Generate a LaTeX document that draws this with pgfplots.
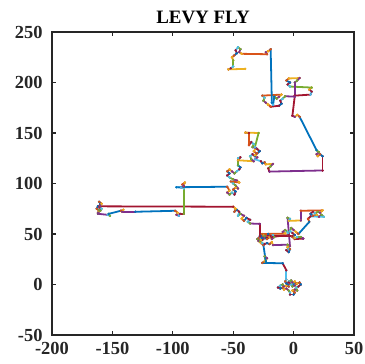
\documentclass[border=0pt]{standalone}
\usepackage{pgfplots}
\usepackage{pgfplotstable}
\pgfplotsset{compat=1.18}
\usepackage{fontspec}
\setmainfont{Liberation Serif}
\definecolor{axgray}{rgb}{0.15,0.15,0.15}
\definecolor{mc0}{rgb}{0,0.447,0.741}
\definecolor{mc1}{rgb}{0.85,0.325,0.098}
\definecolor{mc2}{rgb}{0.929,0.694,0.125}
\definecolor{mc3}{rgb}{0.494,0.184,0.556}
\definecolor{mc4}{rgb}{0.466,0.674,0.188}
\definecolor{mc5}{rgb}{0.301,0.745,0.933}
\definecolor{mc6}{rgb}{0.635,0.078,0.184}
\pgfplotstableread{
x y c
0 0 0
2 1 1
1 3 2
-1 2 3
-2 4 4
-4 3 5
-3 1 6
-5 0 0
-4 -2 1
-6 -1 2
-8 -2 3
-9 0 4
-11 -1 5
-13 -3 6
-11 -4 0
-9 -3 1
-8 -5 2
-6 -4 3
-4 -6 4
-3 -8 5
-3 -10 6
0 -10 0
1 -8 1
-1 -6 2
1 -5 3
3 -6 4
2 -3 5
4 -2 6
6 0 0
5 2 1
3 1 2
1 -1 3
-1 -2 4
-2 0 5
-4 2 6
-6 1 0
-7 3 1
-6 5 5
-6 14 6
-9 21 0
-26 21.4 1
-24 23 2
-22 26 3
-24 28 4
-23 23 0
-25 39 1
-27 41 2
-29 43 3
-30 45 4
-28 46 5
-26 44 6
-24 46 0
-22 45 1
-20 47 2
-18 45 3
-16 47 4
-17 49 5
-19 48 6
-21 50 0
-23 48 1
-25 49 2
-27 47 3
-28 43 4
-26 41 5
-24 40 6
-22 41 0
-20 40 1
-18 42 2
-17 39 3
-5 39.4 4
-4 36 5
-6 34 6
-4 32 0
-3 35 1
-5 37 2
-3 38 3
-5 66 4
-3 65 5
-4 63 2
6 63.4 3
6 73 1
24 73.4 2
22 71 3
20 72 4
18 70 5
16 72 6
14 70 0
16 68 1
19 69 2
21 67 3
23 69 4
25 67 5
14 67.4 6
12 65 1
13 62 0
4 50 1
2 52 2
0 54 3
-2 56 4
-3 53 5
-1 51 6
1 49 0
-1 47 1
1 45 6
8 45.4 3
6 47 4
3 47 5
1 46 2
-1 48 6
-27 48.4 0
-29 46 1
-27 44 2
-25 46 3
-24 48 4
-26 50 1
-7 50.4 2
-9 52 3
-7 54 4
-5 52 5
-4 49 6
-26 46 0
-28 48 6
-28 60 3
-36 60.4 4
-38 62 5
-36 64 6
-39 66 0
-41 63 1
-43 65 2
-41 68 3
-44 70 4
-46 68 5
-45 72 6
-47 74 0
-49 72 1
-48 75 2
-50 77 6
-162 77.4 0
-163 75 1
-161 73 2
-162 71 3
-160 73 4
-159 75 5
-161 77 6
-160 80 0
-161 82 1
-159 80 2
-160 78 3
-161 74 4
-162 70 3
-154 69 5
-152 68 4
-153 70 0
-143 73 1
-141 74 2
-142 72 3
-131 72 0
-98 73 1
-96 71 2
-97 69 3
-95 68 5
-94 70 6
-91 70 4
-91 95 5
-91 97 6
-92 99 1
-90 101 2
-91 98 3
-93 96 5
-97 96.3 0
-55 96.8 1
-53 93 2
-55 91 3
-53 89 4
-51 91 5
-49 89 6
-48 92 0
-50 94 1
-48 96 2
-46 95 3
-48 98 4
-50 100 5
-52 102 1
-45 101 2
-47 103 3
-50 104 4
-53 106 5
-55 108 6
-53 110 0
-55 112 1
-53 114 2
-51 112 3
-49 110 4
-47 112 5
-45 114 6
-44 116 0
-46 118 4
-46 125 5
-44 126 6
-46 123 2
-33 122 3
-35 124 4
-36 127 5
-34 129 6
-32 127 0
-31 130 1
-33 132 2
-31 135 3
-34 136 4
-33 139 5
-35 141 6
-37 138 1
-37 150 6
-40 150.4 2
-29 150 4
-32 136 5
-30 134 6
-28 132 0
-30 130 1
-32 128 2
-30 126 3
-32 124 5
-27 122 6
-26 120 0
-24 121 1
-23 119 2
-17 119.4 3
-19 117 4
-21 115 6
-20 111.8 3
24 112.9 6
24 127 0
22 129 1
20 127 2
19 129 3
21 131 4
19 133 0
5 166 1
3 168 2
1 166 3
-1 167 6
1 187 6
14 188 5
15 191 6
13 193 2
15 195 4
-3 196 5
-5 198 6
-3 200 0
-6 202 1
-4 204 2
5 204.4 3
3 202 4
1 200 3
1 186 3
-7 186.4 4
-9 184 5
-11 182 6
-10 179 0
-12 177 6
-19 176 1
-21 178 2
-23 180 3
-25 182 4
-24 185 5
-26 187 1
-10 188 2
-12 186 3
-14 184 4
-16 186 0
-17 178 5
-18 180 0
-19 233 1
-21 231 2
-23 230 3
-22 228 1
-43 228.4 2
-45 230 3
-44 233 4
-46 235 5
-48 232 6
-47 229 0
-49 227 1
-51 225 2
-50 222 4
-50 216 5
-52 214 6
-54 213 2
-40 213.5 0
}\levy
\pgfplotstablegetrowsof{\levy}
\pgfmathtruncatemacro\Nseg{\pgfplotsretval-2}
\begin{document}
\begin{tikzpicture}
\begin{axis}[
  scale only axis, width=302bp, height=303bp,
  xmin=-200, xmax=50, ymin=-50, ymax=250,
  xtick={-200,-150,...,50}, ytick={-50,0,...,250},
  tick align=inside, major tick length=4bp,
  axis line style={line width=1.1pt, draw=axgray},
  every tick/.style={line width=1.1pt, draw=axgray},
  ticklabel style={font=\fontsize{18.5}{18.5}\selectfont\bfseries, text=axgray},
  xticklabel style={yshift=-3.5bp},
  yticklabel style={xshift=-6bp},
  /pgf/number format/assume math mode=true,
  title={LEVY FLY},
  title style={font=\fontsize{19}{19}\selectfont\bfseries, at={(0.5,1)}, anchor=base, yshift=3bp},
]
\pgfplotsforeachungrouped \i in {0,...,\Nseg}{%
  \pgfmathtruncatemacro\j{\i+1}%
  \pgfplotstablegetelem{\i}{x}\of\levy\let\xa\pgfplotsretval
  \pgfplotstablegetelem{\i}{y}\of\levy\let\ya\pgfplotsretval
  \pgfplotstablegetelem{\j}{x}\of\levy\let\xb\pgfplotsretval
  \pgfplotstablegetelem{\j}{y}\of\levy\let\yb\pgfplotsretval
  \pgfplotstablegetelem{\i}{c}\of\levy\let\cc\pgfplotsretval
  \edef\tmp{\noexpand\addplot[draw=mc\cc, line width=1.8pt, line cap=round, line join=round, mark=*, mark size=1pt, mark options={fill=mc\cc, draw=mc\cc, line width=0.4pt}] coordinates {(\xa,\ya) (\xb,\yb)};}%
  \tmp
}
\end{axis}
\pgfresetboundingbox
\path (current axis.south west) ++(-52bp,-29bp) rectangle ++(365bp,364bp);
\end{tikzpicture}
\end{document}
